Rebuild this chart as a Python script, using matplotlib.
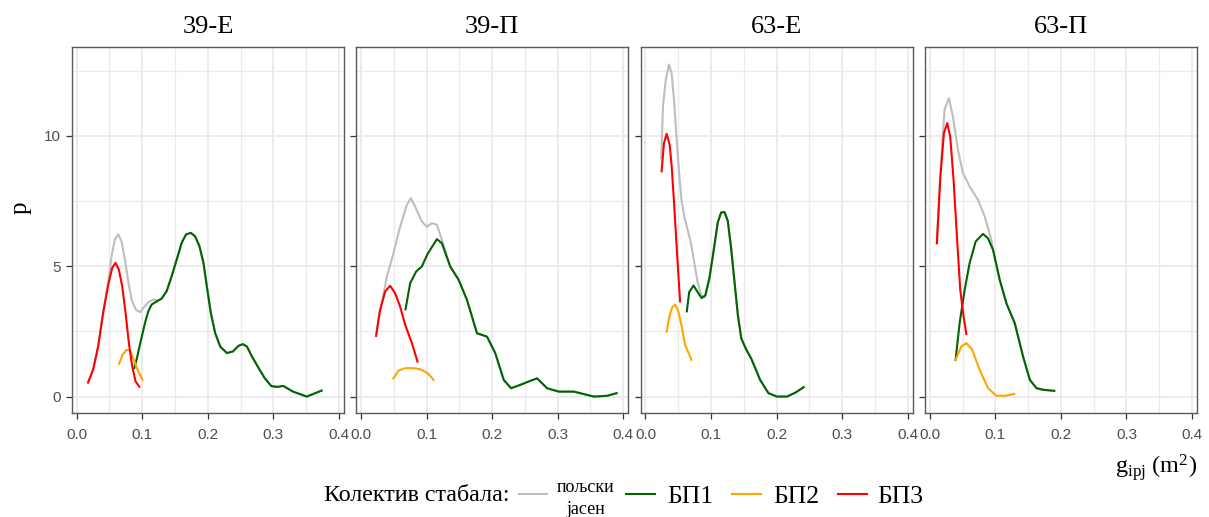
import matplotlib
matplotlib.use("Agg")
import matplotlib.pyplot as plt
import numpy as np
from matplotlib.lines import Line2D

plt.rcParams['font.family'] = ['Liberation Sans', 'DejaVu Sans']
plt.rcParams['mathtext.fontset'] = 'custom'
plt.rcParams['mathtext.rm'] = 'Liberation Serif'
plt.rcParams['mathtext.it'] = 'Liberation Serif:italic'

SERIF = ['Liberation Serif', 'DejaVu Serif']

panels = ['39-Е', '39-П', '63-Е', '63-П']
groups = ['пољски\nјасен', 'БП1', 'БП2', 'БП3']
colors = ['#BEBEBE', '#006400', '#FFA500', '#FF0000']

# 39-E
e39_bp1_x = [0.0878, 0.0913, 0.0964, 0.1041, 0.1092, 0.1143, 0.1219, 0.1296, 0.1372, 0.1449, 0.1526,
             0.1602, 0.1668, 0.174, 0.1806, 0.1872, 0.1934, 0.1985, 0.2046, 0.2112, 0.2189, 0.2291,
             0.2383, 0.2469, 0.2536, 0.2597, 0.2673, 0.2776, 0.287, 0.297, 0.306, 0.315, 0.330,
             0.351, 0.3736]
e39_bp1_y = [1.09, 1.41, 1.99, 2.82, 3.27, 3.53, 3.65, 3.76, 4.04, 4.62, 5.26,
             5.90, 6.22, 6.28, 6.15, 5.77, 5.13, 4.23, 3.21, 2.44, 1.92, 1.67,
             1.73, 1.95, 2.01, 1.92, 1.54, 1.09, 0.70, 0.40, 0.37, 0.41, 0.19,
             0.0, 0.23]
e39_bp2_x = [0.0648, 0.0699, 0.076, 0.0811, 0.0872, 0.0939, 0.1005]
e39_bp2_y = [1.26, 1.60, 1.79, 1.77, 1.41, 0.96, 0.64]
e39_bp3_x = [0.0173, 0.025, 0.0327, 0.0403, 0.048, 0.0541, 0.0592, 0.0643, 0.0694, 0.0745,
             0.0796, 0.0847, 0.0898, 0.0954]
e39_bp3_y = [0.54, 1.03, 1.92, 3.21, 4.29, 4.94, 5.13, 4.87, 4.23, 3.21,
             2.05, 1.15, 0.58, 0.38]
e39_ash_x = [0.0173, 0.025, 0.0327, 0.0403, 0.048, 0.0531, 0.0582, 0.0633, 0.0684, 0.0735,
             0.0786, 0.0837, 0.0903, 0.0964, 0.1031, 0.1092, 0.1168, 0.1245]
e39_ash_y = [0.54, 1.03, 1.92, 3.21, 4.36, 5.38, 6.03, 6.22, 5.96, 5.26,
             4.42, 3.72, 3.33, 3.24, 3.44, 3.62, 3.72, 3.68]

# 39-П
p39_bp1_x = [0.0678, 0.0749, 0.0841, 0.0927, 0.1014, 0.1157, 0.1233, 0.136, 0.1488, 0.1615, 0.1768,
             0.1921, 0.2048, 0.2176, 0.2288, 0.243, 0.2558, 0.2685, 0.2838, 0.3017, 0.3246, 0.3552,
             0.3755, 0.3898]
p39_bp1_y = [3.35, 4.35, 4.80, 4.99, 5.47, 6.04, 5.88, 4.99, 4.48, 3.71, 2.43,
             2.30, 1.66, 0.64, 0.32, 0.45, 0.58, 0.70, 0.32, 0.19, 0.19, 0.0,
             0.03, 0.13]
p39_bp2_x = [0.0494, 0.0571, 0.0673, 0.080, 0.0902, 0.1014, 0.1106]
p39_bp2_y = [0.70, 1.0, 1.09, 1.09, 1.05, 0.90, 0.64]
p39_bp3_x = [0.0229, 0.029, 0.0367, 0.0443, 0.052, 0.0596, 0.0673, 0.0775, 0.0861]
p39_bp3_y = [2.33, 3.32, 4.03, 4.25, 3.96, 3.45, 2.75, 2.05, 1.34]
p39_ash_x = [0.0229, 0.027, 0.0316, 0.0392, 0.0494, 0.0596, 0.0698, 0.0759, 0.0825, 0.0927,
             0.1004, 0.108, 0.1157, 0.1233, 0.131, 0.136]
p39_ash_y = [2.33, 3.1, 3.58, 4.6, 5.5, 6.52, 7.35, 7.61, 7.29, 6.71,
             6.52, 6.65, 6.59, 6.01, 5.37, 4.99]

# 63-Е
e63_bp1_x = [0.0631, 0.0667, 0.0733, 0.0795, 0.0856, 0.0913, 0.0974, 0.1036, 0.1103, 0.1154, 0.1205,
             0.1256, 0.1308, 0.1359, 0.141, 0.1462, 0.1538, 0.1615, 0.169, 0.1749, 0.1877, 0.2005,
             0.2159, 0.2286, 0.2414]
e63_bp1_y = [3.27, 4.01, 4.26, 4.01, 3.78, 3.88, 4.52, 5.53, 6.68, 7.06, 7.08,
             6.74, 5.66, 4.39, 3.12, 2.23, 1.80, 1.45, 1.0, 0.64, 0.13, 0.0,
             0.0, 0.15, 0.36]
e63_bp2_x = [0.0323, 0.0369, 0.041, 0.0451, 0.0497, 0.0549, 0.0605, 0.0692, 0.070]
e63_bp2_y = [2.49, 3.12, 3.44, 3.53, 3.31, 2.74, 1.98, 1.47, 1.41]
e63_bp3_x = [0.0246, 0.0282, 0.0323, 0.0369, 0.040, 0.0436, 0.0472, 0.0503, 0.0528]
e63_bp3_y = [8.64, 9.72, 10.08, 9.66, 8.83, 7.44, 5.91, 4.64, 3.65]
e63_ash_x = [0.0241, 0.0267, 0.0308, 0.0359, 0.040, 0.0436, 0.0472, 0.0513, 0.0549, 0.059,
             0.0641, 0.0692, 0.0744, 0.0795, 0.0846, 0.0897]
e63_ash_y = [9.15, 11.12, 12.13, 12.74, 12.39, 11.37, 9.97, 8.58, 7.56, 6.93,
             6.42, 5.91, 5.15, 4.39, 3.91, 3.80]

# 63-П
p63_bp1_x = [0.0393, 0.0454, 0.0531, 0.0607, 0.0699, 0.0811, 0.0888, 0.0964, 0.1066, 0.1168,
             0.1296, 0.1423, 0.1526, 0.1628, 0.173, 0.1898]
p63_bp1_y = [1.41, 2.81, 4.09, 5.12, 5.95, 6.24, 6.07, 5.63, 4.48, 3.58,
             2.81, 1.53, 0.64, 0.32, 0.26, 0.22]
p63_bp2_x = [0.0393, 0.048, 0.0556, 0.0648, 0.076, 0.0888, 0.1015, 0.1143, 0.1286]
p63_bp2_y = [1.41, 1.92, 2.05, 1.79, 1.02, 0.32, 0.03, 0.03, 0.10]
p63_bp3_x = [0.0107, 0.0158, 0.0214, 0.0265, 0.0311, 0.0362, 0.0413, 0.0464, 0.0515, 0.0556]
p63_bp3_y = [5.88, 8.31, 10.1, 10.49, 9.97, 8.31, 6.14, 4.09, 3.07, 2.40]
p63_ash_x = [0.0107, 0.0158, 0.0224, 0.0291, 0.0352, 0.0429, 0.0505, 0.0607, 0.0735, 0.0837,
             0.0939, 0.0964]
p63_ash_y = [5.88, 8.5, 11.0, 11.45, 10.74, 9.46, 8.57, 8.06, 7.54, 6.91,
             6.01, 5.63]


def with_tail(ax_x, ax_y, bp_x, bp_y):
    # past the join point the whole-stand curve runs under the БП1 curve
    bx, by = np.asarray(bp_x), np.asarray(bp_y)
    keep = bx > ax_x[-1]
    return np.r_[ax_x, bx[keep]], np.r_[ax_y, by[keep]]


series = [
    [with_tail(e39_ash_x, e39_ash_y, e39_bp1_x, e39_bp1_y), (e39_bp1_x, e39_bp1_y),
     (e39_bp2_x, e39_bp2_y), (e39_bp3_x, e39_bp3_y)],
    [with_tail(p39_ash_x, p39_ash_y, p39_bp1_x, p39_bp1_y), (p39_bp1_x, p39_bp1_y),
     (p39_bp2_x, p39_bp2_y), (p39_bp3_x, p39_bp3_y)],
    [with_tail(e63_ash_x, e63_ash_y, e63_bp1_x, e63_bp1_y), (e63_bp1_x, e63_bp1_y),
     (e63_bp2_x, e63_bp2_y), (e63_bp3_x, e63_bp3_y)],
    [with_tail(p63_ash_x, p63_ash_y, p63_bp1_x, p63_bp1_y), (p63_bp1_x, p63_bp1_y),
     (p63_bp2_x, p63_bp2_y), (p63_bp3_x, p63_bp3_y)],
]

W, H = 1209, 517
fig, axes = plt.subplots(1, 4, figsize=(W / 100, H / 100), dpi=100, sharey=True)
fig.subplots_adjust(left=72 / W, right=1197 / W, bottom=1 - 413 / H, top=1 - 47 / H, wspace=0.046)

for ax, name, curves in zip(axes, panels, series):
    for (x, y), c in zip(curves, colors):
        ax.plot(x, y, color=c, lw=1.5, solid_joinstyle='round')
    ax.set_xlim(-0.0072, 0.4076)
    ax.set_ylim(-0.63, 13.41)
    ax.set_xticks([0.0, 0.1, 0.2, 0.3, 0.4])
    ax.set_xticklabels(['0.0', '0.1', '0.2', '0.3', '0.4'])
    ax.set_xticks([0.05, 0.15, 0.25, 0.35], minor=True)
    ax.set_yticks([0, 5, 10])
    ax.set_yticks([2.5, 7.5, 12.5], minor=True)
    ax.grid(True, which='major', color='#EBEBEB', lw=1.3)
    ax.grid(True, which='minor', color='#EBEBEB', lw=0.9)
    ax.set_axisbelow(True)
    for s in ax.spines.values():
        s.set_color('#5A5A5A')
        s.set_linewidth(1.0)
    ax.tick_params(which='major', length=4.3, width=0.9, color='#333333',
                   labelsize=11, labelcolor='#4D4D4D')
    ax.tick_params(axis='x', pad=6.5)
    ax.tick_params(axis='y', pad=4)
    ax.tick_params(which='minor', length=0)
    ax.set_title(name, fontsize=19, family=SERIF, pad=10)

fig.text(21 / W, 1 - 207.5 / H, 'p', rotation=90, ha='center', va='center',
         fontsize=18, family=SERIF)
fig.text(1197 / W, 1 - 473 / H, r'g$_{\mathrm{ipj}}$ (m$^2$)', ha='right', va='baseline',
         fontsize=17.5, family=SERIF)

# legend row at the bottom
fig.text(510 / W, 1 - 501 / H, 'Колектив стабала:', ha='right', va='baseline',
         fontsize=17.3, family=SERIF)
key_spans = [(519, 547), (626, 655), (732, 761), (838, 867)]
for (x0, x1), c in zip(key_spans, colors):
    fig.add_artist(Line2D([x0 / W, x1 / W], [1 - 494 / H, 1 - 494 / H], color=c, lw=1.5,
                          transform=fig.transFigure))
first, second = groups[0].split('\n')
fig.text(586 / W, 1 - 492 / H, first, ha='center', va='baseline', fontsize=13, family=SERIF)
fig.text(586 / W, 1 - 514 / H, second, ha='center', va='baseline', fontsize=13, family=SERIF)
for x0, label in zip([667, 773, 877], groups[1:]):
    fig.text(x0 / W, 1 - 503 / H, label, ha='left', va='baseline', fontsize=18.5, family=SERIF)

fig.savefig('out.png', dpi=100)
